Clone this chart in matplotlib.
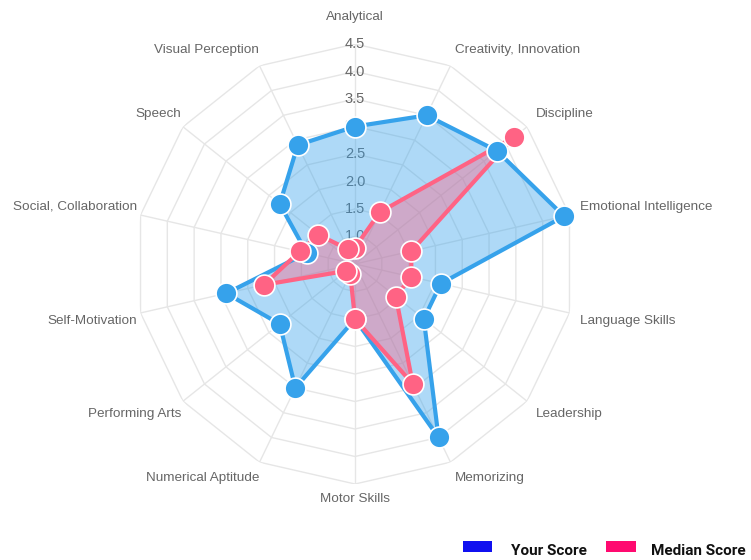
import numpy as np
import matplotlib
matplotlib.use("Agg")
import matplotlib.pyplot as plt
from matplotlib.patches import Rectangle

categories = ["Analytical", "Creativity, Innovation", "Discipline", "Emotional Intelligence",
              "Language Skills", "Leadership", "Memorizing", "Motor Skills",
              "Numerical Aptitude", "Performing Arts", "Self-Motivation",
              "Social, Collaboration", "Speech", "Visual Perception"]
your_score = [3.0, 3.5, 3.8, 4.4, 2.1, 2.1, 4.0, 1.5, 3.0, 2.25, 2.9, 1.4, 2.25, 2.9]
median_score = [0.8, 1.55, 4.2, 1.55, 1.55, 1.45, 2.92, 1.5, 0.7, 0.7, 2.2, 1.53, 1.35, 0.8]
ring_ticks = [1.0, 1.5, 2.0, 2.5, 3.0, 3.5, 4.0, 4.5]
r_min, r_max = 0.5, 4.5

W, H = 751, 560
fig = plt.figure(figsize=(W / 100, H / 100), dpi=100)

cx, cy, rad = 355, 264, 220
ax = fig.add_axes([(cx - rad) / W, (H - cy - rad) / H, 2 * rad / W, 2 * rad / H],
                  projection="polar")
ax.set_theta_zero_location("N")
ax.set_theta_direction(-1)
ax.set_rlim(r_min, r_max)
ax.grid(False)
ax.set_xticks([])
ax.set_yticks([])
ax.spines["polar"].set_visible(False)
ax.patch.set_alpha(0)

n = len(categories)
angles = np.arange(n) * 2 * np.pi / n
closed = np.append(angles, angles[0])

grid_c = "#e6e6e6"
for r in ring_ticks:
    ax.plot(closed, [r] * (n + 1), color=grid_c, lw=1, zorder=1)
for a in angles:
    ax.plot([a, a], [r_min, r_max], color=grid_c, lw=1, zorder=1)

# scale labels on the vertical axis
for r in ring_ticks:
    ax.text(0, r, f"{r:.1f}", ha="center", va="center", fontsize=10.5,
            color="#666666", family="Liberation Sans", zorder=2)

# point labels, offset in pixels from the outer ring vertex
for a, lab in zip(angles, categories):
    s, c = np.sin(a), np.cos(a)
    if abs(s) < 0.01:
        ha = "center"
        dx = 0
        dy = 21 if c > 0 else -9
    else:
        ha = "left" if s > 0 else "right"
        dx = 11 * s if s > 0 else -4 * abs(s) ** 3
        dy = 11 * c
    va = "bottom" if c > 0.01 else ("top" if c < -0.01 else "center")
    ax.annotate(lab, (a, r_max), xytext=(dx, dy), textcoords="offset pixels",
                ha=ha, va=va, fontsize=9.7, color="#666666",
                family="Liberation Sans", annotation_clip=False)

blue = "#36a2eb"
pink = "#ff6384"
for vals, col in [(your_score, blue), (median_score, pink)]:
    v = np.append(vals, vals[0])
    ax.fill(closed, v, color=col, alpha=0.4, lw=0, zorder=3, clip_on=False)
    ax.plot(closed, v, color=col, lw=3, zorder=4, clip_on=False)
    ax.plot(angles, vals, "o", ms=15, color=col, mec="white", mew=1.2,
            zorder=5, clip_on=False)

# legend
def px_rect(x0, y0, x1, y1, col):
    fig.add_artist(Rectangle((x0 / W, 1 - y1 / H), (x1 - x0) / W, (y1 - y0) / H,
                             transform=fig.transFigure, color=col, lw=0))

px_rect(463, 541, 492, 552, "#1010f0")
fig.text(511 / W, 1 - 551 / H, "Your Score", fontsize=11, fontweight="bold",
         family="Roboto", va="center", ha="left", color="#111111")
px_rect(606, 541, 636, 552, "#ff0a70")
fig.text(651 / W, 1 - 551 / H, "Median Score", fontsize=11, fontweight="bold",
         family="Roboto", va="center", ha="left", color="#111111")

fig.savefig("out.png", dpi=100)
